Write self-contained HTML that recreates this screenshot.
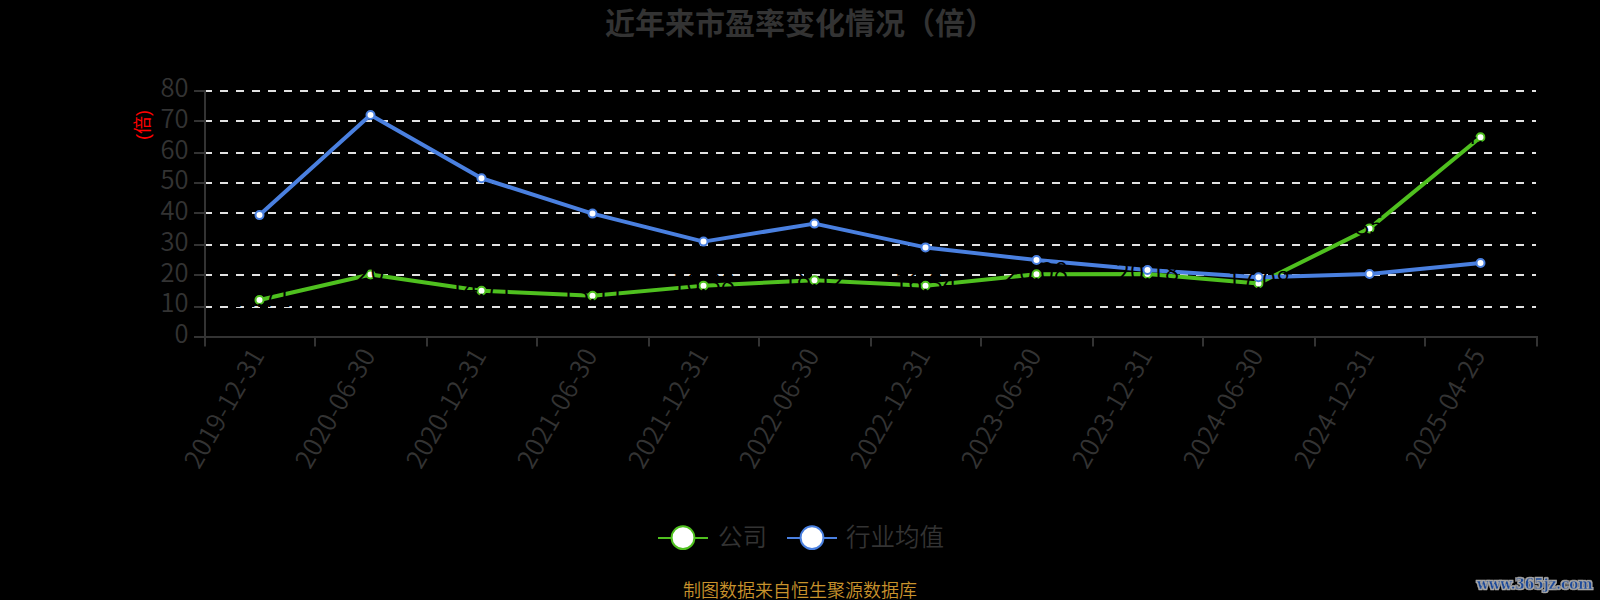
<!DOCTYPE html>
<html lang="zh"><head><meta charset="utf-8"><title>近年来市盈率变化情况（倍）</title>
<style>html,body{margin:0;padding:0;background:#000;}body{width:1600px;height:600px;overflow:hidden;}svg{display:block;}text{font-family:"Liberation Sans","Noto Sans CJK SC",sans-serif;}.n text{font-family:"Noto Sans CJK SC","Liberation Sans",sans-serif;font-weight:350;}.wm{font-family:"DejaVu Serif","Liberation Serif",serif;}</style></head><body>
<svg width="1600" height="600" viewBox="0 0 1600 600">
<rect width="1600" height="600" fill="#000"/>
<g stroke="#e2e2e2" stroke-width="2" stroke-dasharray="8 8">
<line x1="204" y1="307" x2="1536" y2="307"/>
<line x1="204" y1="275" x2="1536" y2="275"/>
<line x1="204" y1="245" x2="1536" y2="245"/>
<line x1="204" y1="213" x2="1536" y2="213"/>
<line x1="204" y1="183" x2="1536" y2="183"/>
<line x1="204" y1="153" x2="1536" y2="153"/>
<line x1="204" y1="121" x2="1536" y2="121"/>
<line x1="204" y1="91" x2="1536" y2="91"/>
</g>
<g stroke="#333" stroke-width="2">
<line x1="205" y1="90" x2="205" y2="338"/>
<line x1="204" y1="337" x2="1538" y2="337"/>
<line x1="194" y1="337" x2="205" y2="337"/>
<line x1="194" y1="307" x2="205" y2="307"/>
<line x1="194" y1="275" x2="205" y2="275"/>
<line x1="194" y1="245" x2="205" y2="245"/>
<line x1="194" y1="213" x2="205" y2="213"/>
<line x1="194" y1="183" x2="205" y2="183"/>
<line x1="194" y1="153" x2="205" y2="153"/>
<line x1="194" y1="121" x2="205" y2="121"/>
<line x1="194" y1="91" x2="205" y2="91"/>
<line x1="205" y1="337" x2="205" y2="346.5"/>
<line x1="315" y1="337" x2="315" y2="346.5"/>
<line x1="427" y1="337" x2="427" y2="346.5"/>
<line x1="537" y1="337" x2="537" y2="346.5"/>
<line x1="649" y1="337" x2="649" y2="346.5"/>
<line x1="759" y1="337" x2="759" y2="346.5"/>
<line x1="871" y1="337" x2="871" y2="346.5"/>
<line x1="981" y1="337" x2="981" y2="346.5"/>
<line x1="1093" y1="337" x2="1093" y2="346.5"/>
<line x1="1203" y1="337" x2="1203" y2="346.5"/>
<line x1="1315" y1="337" x2="1315" y2="346.5"/>
<line x1="1425" y1="337" x2="1425" y2="346.5"/>
<line x1="1537" y1="337" x2="1537" y2="346.5"/>
</g>
<g class="n" font-size="25.5" fill="#333" text-anchor="end">
<text x="188.5" y="343.10">0</text>
<text x="188.5" y="312.35">10</text>
<text x="188.5" y="281.60">20</text>
<text x="188.5" y="250.85">30</text>
<text x="188.5" y="220.10">40</text>
<text x="188.5" y="189.35">50</text>
<text x="188.5" y="158.60">60</text>
<text x="188.5" y="127.85">70</text>
<text x="188.5" y="97.10">80</text>
</g>
<g class="n" font-size="25.5" letter-spacing="0.35" fill="#333" text-anchor="end">
<text transform="translate(265.50,355.0) rotate(-60)">2019-12-31</text>
<text transform="translate(376.50,355.0) rotate(-60)">2020-06-30</text>
<text transform="translate(487.50,355.0) rotate(-60)">2020-12-31</text>
<text transform="translate(598.50,355.0) rotate(-60)">2021-06-30</text>
<text transform="translate(709.50,355.0) rotate(-60)">2021-12-31</text>
<text transform="translate(820.50,355.0) rotate(-60)">2022-06-30</text>
<text transform="translate(931.50,355.0) rotate(-60)">2022-12-31</text>
<text transform="translate(1042.50,355.0) rotate(-60)">2023-06-30</text>
<text transform="translate(1153.50,355.0) rotate(-60)">2023-12-31</text>
<text transform="translate(1264.50,355.0) rotate(-60)">2024-06-30</text>
<text transform="translate(1375.50,355.0) rotate(-60)">2024-12-31</text>
<text transform="translate(1486.50,355.0) rotate(-60)">2025-04-25</text>
</g>
<text transform="translate(143,125) rotate(-90)" font-size="18" fill="#f00" text-anchor="middle" dominant-baseline="central">(倍)</text>
<polyline points="259.50,299.99 370.50,274.50 481.50,290.77 592.50,295.69 703.50,285.63 814.50,280.28 925.50,285.75 1036.50,274.25 1147.50,273.95 1258.50,283.48 1369.50,228.38 1480.50,137.29" fill="none" stroke="#4fc01f" stroke-width="4" stroke-linejoin="bevel"/>
<polyline points="259.50,215.10 370.50,115.00 481.50,178.25 592.50,213.60 703.50,241.60 814.50,223.60 925.50,247.40 1036.50,260.00 1147.50,270.00 1258.50,277.30 1369.50,274.00 1480.50,263.00" fill="none" stroke="#4a80e0" stroke-width="4" stroke-linejoin="bevel"/>
<g fill="#fff" stroke="#4fc01f" stroke-width="2">
<circle cx="259.50" cy="299.99" r="4"/>
<circle cx="370.50" cy="274.50" r="4"/>
<circle cx="481.50" cy="290.77" r="4"/>
<circle cx="592.50" cy="295.69" r="4"/>
<circle cx="703.50" cy="285.63" r="4"/>
<circle cx="814.50" cy="280.28" r="4"/>
<circle cx="925.50" cy="285.75" r="4"/>
<circle cx="1036.50" cy="274.25" r="4"/>
<circle cx="1147.50" cy="273.95" r="4"/>
<circle cx="1258.50" cy="283.48" r="4"/>
<circle cx="1369.50" cy="228.38" r="4"/>
<circle cx="1480.50" cy="137.29" r="4"/>
</g>
<g fill="#fff" stroke="#4a80e0" stroke-width="2">
<circle cx="259.50" cy="215.10" r="4"/>
<circle cx="370.50" cy="115.00" r="4"/>
<circle cx="481.50" cy="178.25" r="4"/>
<circle cx="592.50" cy="213.60" r="4"/>
<circle cx="703.50" cy="241.60" r="4"/>
<circle cx="814.50" cy="223.60" r="4"/>
<circle cx="925.50" cy="247.40" r="4"/>
<circle cx="1036.50" cy="260.00" r="4"/>
<circle cx="1147.50" cy="270.00" r="4"/>
<circle cx="1258.50" cy="277.30" r="4"/>
<circle cx="1369.50" cy="274.00" r="4"/>
<circle cx="1480.50" cy="263.00" r="4"/>
</g>
<g class="n" font-size="25.5" fill="#000" text-anchor="middle">
<text x="259.50" y="306.69">11.71</text>
<text x="370.50" y="281.20">20</text>
<text x="481.50" y="297.47">14.71</text>
<text x="592.50" y="302.39">13.11</text>
<text x="703.50" y="292.33">16.38</text>
<text x="814.50" y="286.98">18.12</text>
<text x="925.50" y="292.45">16.34</text>
<text x="1036.50" y="280.95">20.08</text>
<text x="1147.50" y="280.65">20.18</text>
<text x="1258.50" y="290.18">17.08</text>
<text x="1369.50" y="235.07">35</text>
<text x="1480.50" y="143.99">64.62</text>
</g>
<text x="800" y="23" font-size="30" font-weight="bold" fill="#333" text-anchor="middle" dominant-baseline="central">近年来市盈率变化情况（倍）</text>
<line x1="658" y1="538" x2="708" y2="538" stroke="#4fc01f" stroke-width="2"/>
<circle cx="683" cy="537.7" r="11.4" fill="#fff" stroke="#4fc01f" stroke-width="2"/>
<text x="718" y="537.2" font-size="24.5" font-weight="350" fill="#333" dominant-baseline="central">公司</text>
<line x1="787" y1="538" x2="837" y2="538" stroke="#4a80e0" stroke-width="2"/>
<circle cx="812" cy="537.7" r="11.4" fill="#fff" stroke="#4a80e0" stroke-width="2"/>
<text x="846" y="537.2" font-size="24.5" font-weight="350" fill="#333" dominant-baseline="central">行业均值</text>
<text x="800" y="591" font-size="18" font-weight="350" fill="#c8922c" text-anchor="middle" dominant-baseline="central">制图数据来自恒生聚源数据库</text>
<defs><filter id="ol" x="-10%" y="-40%" width="120%" height="180%"><feMorphology in="SourceAlpha" operator="dilate" radius="1.1" result="d"/><feGaussianBlur in="d" stdDeviation="0.35" result="b"/><feFlood flood-color="#a6a6a6"/><feComposite in2="b" operator="in" result="g"/><feMerge><feMergeNode in="g"/><feMergeNode in="SourceGraphic"/></feMerge></filter></defs>
<text class="wm" filter="url(#ol)" transform="translate(1534.8,589) scale(0.93,1)" font-size="14.6" font-weight="bold" text-anchor="middle" fill="#1b4a9a" stroke="#a6a6a6" stroke-width="0.4" stroke-linejoin="round">www.365jz.com</text>
</svg></body></html>
